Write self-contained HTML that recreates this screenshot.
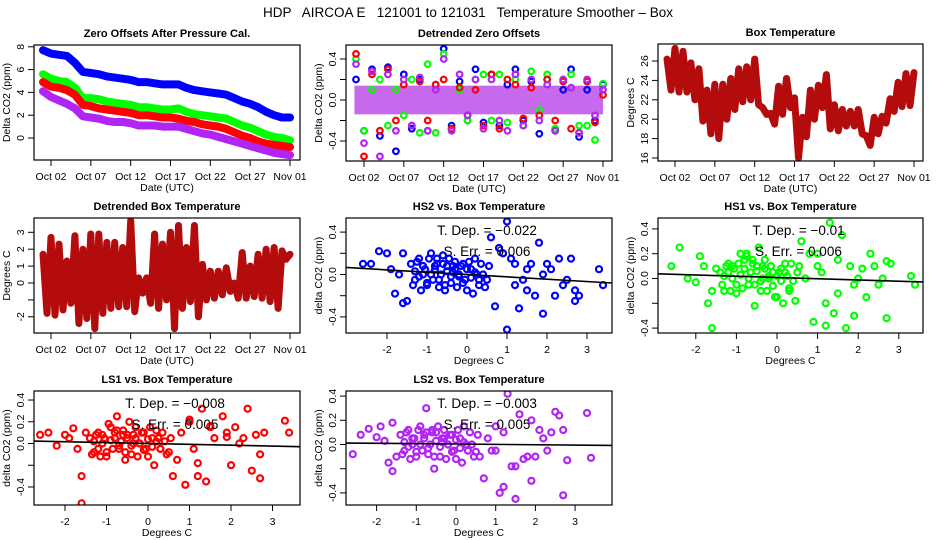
<!DOCTYPE html>
<html><head><meta charset="utf-8">
<style>
html,body{margin:0;padding:0;background:#fff;}
svg{display:block;font-family:"Liberation Sans",sans-serif;}
</style></head>
<body>
<svg id="chart" width="936" height="540" viewBox="0 0 936 540" xmlns="http://www.w3.org/2000/svg">
<text x="468" y="17" text-anchor="middle" font-size="13.5" xml:space="preserve">HDP   AIRCOA E   121001 to 121031   Temperature Smoother – Box</text>
</svg>
<script>
// ---------- data ----------
const dateTicks = [1, 6, 11, 16, 21, 26, 31];
const dateLabels = ["Oct 02", "Oct 07", "Oct 12", "Oct 17", "Oct 22", "Oct 27", "Nov 01"];
const dayIdx = [0,1,2,3,4,5,6,7,8,9,10,11,12,13,14,15,16,17,18,19,20,21,22,23,24,25,26,27,28,29,30,31];
const offHS2 = [7.7,7.4,7.3,7.2,6.6,5.8,5.7,5.6,5.4,5.3,5.2,5.1,4.9,4.9,4.8,4.7,4.7,4.7,4.4,4.2,4.1,4.0,3.9,3.8,3.5,3.2,3.0,2.7,2.3,2.0,1.8,1.8];
const offHS1 = [5.6,5.2,5.0,4.9,4.4,3.5,3.5,3.4,3.2,3.1,3.0,2.9,2.7,2.7,2.6,2.5,2.5,2.6,2.3,2.1,2.0,1.9,1.8,1.7,1.4,1.1,0.9,0.6,0.3,0.1,0.0,-0.2];
const offLS1 = [4.9,4.5,4.4,4.2,3.8,2.9,2.8,2.6,2.5,2.4,2.3,2.2,2.0,2.0,1.9,1.8,1.8,1.7,1.5,1.4,1.2,1.1,1.0,0.8,0.5,0.2,0.0,-0.3,-0.5,-0.6,-0.7,-0.8];
const offLS2 = [4.1,3.6,3.3,3.0,2.6,1.9,1.8,1.7,1.5,1.4,1.4,1.3,1.1,1.1,1.1,1.0,1.0,1.0,0.8,0.6,0.4,0.3,0.1,-0.1,-0.3,-0.5,-0.7,-0.9,-1.1,-1.3,-1.4,-1.5];

const detHS2 = [0.2,-0.3,0.3,-0.35,0.32,-0.5,0.25,-0.28,0.2,-0.3,0.15,0.5,-0.25,0.18,-0.2,0.3,-0.22,0.25,-0.25,0.15,0.3,-0.2,0.18,-0.33,0.2,-0.3,0.1,0.3,-0.36,0.1,-0.2,0.15];
const detHS1 = [0.4,-0.3,0.1,0.2,-0.25,0.1,-0.15,0.2,-0.32,0.35,-0.32,0.45,-0.28,0.1,-0.2,0.2,0.25,-0.2,0.25,-0.22,0.2,-0.25,0.28,-0.1,0.25,-0.28,0.2,0.25,-0.25,-0.25,-0.39,0.16];
const detLS1 = [0.45,-0.55,0.25,-0.3,0.3,-0.2,0.15,-0.25,0.18,-0.2,0.15,0.2,-0.28,0.12,-0.15,0.1,-0.25,0.25,-0.28,0.2,0.15,-0.18,0.12,-0.15,0.2,-0.2,0.18,-0.28,-0.32,0.18,-0.22,0.05];
const detLS2 = [0.35,-0.42,0.28,-0.55,0.25,-0.3,0.2,-0.25,0.22,-0.3,0.1,0.4,-0.3,0.25,-0.15,0.2,-0.28,0.2,-0.2,-0.3,0.25,-0.25,0.2,-0.2,0.15,-0.3,0.2,0.12,-0.32,0.2,-0.15,0.1];
const detCoreLow = -0.14;
const detCoreHigh = 0.14;

const halfDays = [0,0.5,1,1.5,2,2.5,3,3.5,4,4.5,5,5.5,6,6.5,7,7.5,8,8.5,9,9.5,10,10.5,11,11.5,12,12.5,13,13.5,14,14.5,15,15.5,16,16.5,17,17.5,18,18.5,19,19.5,20,20.5,21,21.5,22,22.5,23,23.5,24,24.5,25,25.5,26,26.5,27,27.5,28,28.5,29,29.5,30,30.5,31];
const boxTemp = [26.2,23,27.3,22.8,27.0,22.8,25.8,22,25.2,19.8,23,18.5,23.6,18.0,23.6,20,24.2,21,25.2,21.8,25.4,22,26.2,21.5,21.2,20.5,20.6,19.5,23.4,20.5,24.2,21.2,22.2,16.0,20.2,18.2,23.0,20.0,23.5,21.2,24.6,19.0,21.5,18.8,21.0,19.3,20.8,19.3,21.0,18.5,18.3,17.3,20.2,18.5,20.3,19.6,22.1,20.8,23.8,21.3,24.7,21.4,24.8];
const detTemp = [1.7,-1.8,2.7,-1.9,2.3,-1.6,1.3,-1.2,2.8,-2.4,2.0,-2.1,2.9,-2.7,2.9,-1.8,2.4,-1.5,2.4,-1.4,2.1,-1.4,3.7,-1.7,0.3,-0.6,0.3,-1.2,2.9,-1.5,2.3,-1.0,3.0,-2.7,3.4,-1.5,2.1,-1.1,3.4,-2.0,1.1,-1.0,0.7,-0.9,0.7,-0.7,0.9,-0.5,0.0,-0.9,1.8,-0.9,1.0,-0.8,1.7,-0.9,2.0,-1.1,2.1,-1.5,1.9,1.4,1.7];

const tempX = [-1.4,-1.3,-1.2,-1.1,-1.0,-0.9,-0.8,-0.7,-0.6,-0.5,-0.4,-0.3,-0.2,-0.1,0.0,0.1,0.2,0.3,0.4,0.5,
-1.35,-1.25,-1.15,-1.05,-0.95,-0.85,-0.75,-0.65,-0.55,-0.45,-0.35,-0.25,-0.15,-0.05,0.05,0.15,0.25,0.35,0.45,0.55,
-1.3,-1.2,-1.1,-1.0,-0.9,-0.8,-0.7,-0.6,-0.5,-0.4,-0.3,-0.2,-0.1,0.0,0.1,0.2,0.3,-0.75,-0.55,-0.35,
-2.6,-2.4,-2.2,-2.0,-1.9,-1.8,-1.7,-1.6,-1.6,-1.5,0.7,0.8,0.9,1.0,1.1,1.2,1.3,1.4,1.5,1.6,1.7,1.8,1.9,2.0,2.1,2.2,2.3,2.4,2.5,2.6,2.7,2.7,2.8,3.3,3.4,1.0,1.2,1.5,1.9,0.6];
const yHS2 = [0.1,-0.05,0.15,0.0,-0.1,0.2,0.05,-0.12,0.18,0.08,-0.08,0.12,-0.02,0.1,-0.15,0.05,0.15,-0.1,0.0,-0.05,
-0.1,0.12,-0.15,0.05,0.15,-0.05,0.1,0.0,-0.1,0.15,0.02,-0.12,0.08,-0.05,0.12,-0.18,0.0,0.1,-0.12,0.08,
0.03,-0.02,0.08,-0.08,0.0,0.08,-0.05,0.1,0.03,-0.02,0.05,0.0,-0.08,0.05,-0.03,0.02,-0.05,0.15,-0.15,0.08,
0.1,0.1,0.22,0.2,0.05,-0.18,0.0,-0.27,0.2,-0.25,-0.3,0.25,0.2,-0.52,0.15,0.1,-0.32,-0.05,-0.15,0.1,-0.2,0.3,0.0,0.1,0.05,-0.2,0.15,-0.1,-0.05,0.15,-0.15,-0.25,-0.2,0.05,-0.1,0.5,-0.1,0.05,-0.37,0.35];
const yHS1 = [0.05,-0.1,0.12,0.0,-0.12,0.2,0.08,-0.05,0.15,0.1,-0.1,0.15,0.0,0.05,-0.15,0.08,0.12,-0.08,-0.02,0.05,
-0.05,0.1,-0.1,0.08,0.12,-0.08,0.2,0.05,-0.05,0.25,0.0,-0.1,0.1,-0.15,0.05,-0.2,0.02,0.12,-0.18,0.1,
0.02,0.05,0.1,-0.05,0.03,0.15,0.0,0.12,0.06,-0.02,0.08,0.02,-0.06,0.02,-0.02,0.05,-0.1,0.18,-0.22,0.1,
0.1,0.25,0.0,-0.03,0.18,0.1,-0.2,-0.4,-0.1,0.08,0.0,0.2,-0.35,0.2,0.05,-0.38,0.45,-0.28,0.15,0.35,-0.4,0.1,-0.05,0.0,0.08,-0.15,0.2,0.1,-0.05,0.0,-0.32,0.14,0.12,0.02,-0.05,0.1,-0.2,-0.12,-0.3,0.3];
const yLS1 = [0.05,-0.08,0.1,0.0,-0.12,0.15,0.05,-0.05,0.12,0.08,-0.1,0.15,0.0,0.1,-0.12,0.05,0.12,-0.05,0.02,-0.08,
-0.1,0.08,-0.12,0.05,0.18,-0.05,0.12,0.02,-0.08,0.2,0.0,-0.12,0.1,-0.05,0.15,-0.2,0.05,0.1,-0.1,0.05,
0.02,-0.05,0.08,-0.08,0.03,0.1,-0.02,0.08,0.05,-0.02,0.05,0.0,-0.06,0.04,-0.03,0.02,-0.05,0.25,-0.15,0.08,
0.08,0.1,-0.02,0.08,0.05,0.14,-0.05,-0.3,-0.55,0.1,-0.15,0.1,-0.38,0.2,-0.05,-0.3,0.32,-0.35,0.16,0.05,-0.6,0.25,0.1,-0.2,0.15,0.0,0.05,0.32,-0.25,0.08,-0.1,-0.32,0.1,0.21,0.1,0.22,-0.18,0.15,0.06,-0.3];
const yLS2 = [0.08,-0.05,0.12,0.0,-0.1,0.15,0.05,-0.08,0.12,0.1,-0.1,0.12,0.0,0.08,-0.12,0.05,0.15,-0.05,0.0,-0.06,
-0.08,0.1,-0.12,0.05,0.12,-0.05,0.1,0.0,-0.1,0.15,0.02,-0.12,0.08,-0.05,0.12,-0.15,0.0,0.1,-0.1,0.08,
0.02,-0.02,0.05,-0.06,0.0,0.08,-0.03,0.1,0.03,-0.02,0.05,0.0,-0.06,0.04,-0.03,0.02,-0.05,0.3,-0.2,0.05,
-0.08,0.08,0.13,0.06,0.15,0.03,-0.15,-0.22,0.18,-0.1,-0.28,0.05,-0.05,0.15,-0.4,0.1,0.42,-0.18,-0.45,0.25,-0.12,-0.1,0.2,-0.1,0.12,0.05,-0.05,0.1,0.27,0.24,-0.42,0.12,-0.13,0.26,-0.11,-0.05,-0.35,-0.18,-0.3,-0.1];
const fitSlopes = [-0.022, -0.01, -0.008, -0.003];
const fitIntercepts = [0.0, 0.008, 0.0, 0.004];
const depLabels = ["-0.022", "-0.01", "-0.008", "-0.003"];
const errLabels = ["0.006", "0.006", "0.005", "0.005"];
const scatterTicks = [-2, -1, 0, 1, 2, 3];

// ---------- drawing ----------
const NS = "http://www.w3.org/2000/svg";
const svg = document.getElementById("chart");
const PURPLE = "#b024f4";
const DARKRED = "#b40c0c";
let clipN = 0;

function mk(tag, parent) {
  const e = document.createElementNS(NS, tag);
  parent.appendChild(e);
  return e;
}
function txt(parent, x, y, s, size, anchor, bold, rot) {
  const t = mk("text", parent);
  t.setAttribute("x", x); t.setAttribute("y", y);
  t.setAttribute("font-size", size);
  t.setAttribute("text-anchor", anchor || "middle");
  if (bold) t.setAttribute("font-weight", "bold");
  if (rot) t.setAttribute("transform", "rotate(-90 " + x + " " + y + ")");
  t.textContent = s;
  return t;
}

function panel(o) {
  const g = mk("g", svg);
  
  
  const [x0, y0, x1, y1] = o.box;
  const sx = v => o.xa + v * o.xk;
  const sy = v => o.ya - v * o.yk;
  const tt = txt(g, (x0 + x1) / 2, y0 - 8, o.title, 11, "middle", true);
  
  
  const cp = mk("clipPath", g); const cid = "cp" + (clipN++);
  cp.setAttribute("id", cid);
  const cr = mk("rect", cp);
  cr.setAttribute("x", x0); cr.setAttribute("y", y0); cr.setAttribute("width", x1 - x0); cr.setAttribute("height", y1 - y0);
  const plot = mk("g", g);
  plot.setAttribute("clip-path", "url(#" + cid + ")");
  
  
  o.draw(plot, sx, sy);
  const bx = mk("rect", g);
  bx.setAttribute("x", x0); bx.setAttribute("y", y0); bx.setAttribute("width", x1 - x0); bx.setAttribute("height", y1 - y0);
  bx.setAttribute("fill", "none"); bx.setAttribute("stroke", "#000"); bx.setAttribute("stroke-width", "1.2");
  
  
  const xg = mk("g", g);
  
  
  o.xticks.forEach((v, i) => {
    const X = sx(v);
    const l = mk("line", xg);
    l.setAttribute("x1", X); l.setAttribute("x2", X); l.setAttribute("y1", y1); l.setAttribute("y2", y1 + 6);
    l.setAttribute("stroke", "#000");
    const t = txt(xg, X, y1 + 20, o.xlabels[i], 10.5);
    
    
  });
  const xt = txt(g, (x0 + x1) / 2, y1 + 31, o.xtitle, 10.5);
  
  
  const yg = mk("g", g);
  
  
  o.yticks.forEach((v, i) => {
    const Y = sy(v);
    const l = mk("line", yg);
    l.setAttribute("x1", x0 - 6); l.setAttribute("x2", x0); l.setAttribute("y1", Y); l.setAttribute("y2", Y);
    l.setAttribute("stroke", "#000");
    if (o.ylabels[i] !== "") {
      const t = txt(yg, x0 - 10, Y, o.ylabels[i], 10.5, "middle", false, true);
      
      
    }
  });
  const yt = txt(g, x0 - 24, (y0 + y1) / 2, o.ytitle, 10.5, "middle", false, true);
  
  
  return g;
}

function line(parent, xs, ys, sx, sy, color, w, name) {
  const p = mk("polyline", parent);
  p.setAttribute("points", xs.map((x, i) => sx(x).toFixed(1) + "," + sy(ys[i]).toFixed(1)).join(" "));
  p.setAttribute("fill", "none"); p.setAttribute("stroke", color); p.setAttribute("stroke-width", w);
  p.setAttribute("stroke-linejoin", "round"); p.setAttribute("stroke-linecap", "round");
  
  
  return p;
}
function points(parent, xs, ys, sx, sy, color, name, r, sw) {
  const g = mk("g", parent);
  
  
  xs.forEach((x, i) => {
    const c = mk("circle", g);
    c.setAttribute("cx", sx(x).toFixed(1)); c.setAttribute("cy", sy(ys[i]).toFixed(1));
    c.setAttribute("r", r || 2.6); c.setAttribute("fill", "none");
    c.setAttribute("stroke", color); c.setAttribute("stroke-width", sw || 1.8);
  });
  return g;
}

const dayK = 239 / 30;
const timeCommon = { xticks: dateTicks, xlabels: dateLabels, xtitle: "Date (UTC)", xk: dayK };

panel(Object.assign({}, timeCommon, {
  name: "zero-offsets-panel", box: [34, 45, 300, 160], title: "Zero Offsets After Pressure Cal.",
  xa: 51 - dayK, ya: 138, yk: 11.4, yticks: [0, 2, 4, 6, 8], ylabels: ["0", "2", "4", "6", "8"], ytitle: "Delta CO2 (ppm)",
  draw(p, sx, sy) {
    line(p, dayIdx, offHS2, sx, sy, "#0000ff", 8, "series-hs2");
    line(p, dayIdx, offHS1, sx, sy, "#00ff00", 8, "series-hs1");
    line(p, dayIdx, offLS1, sx, sy, "#ff0000", 8, "series-ls1");
    line(p, dayIdx, offLS2, sx, sy, PURPLE, 8, "series-ls2");
  }
}));

panel(Object.assign({}, timeCommon, {
  name: "detrended-zero-offsets-panel", box: [346, 45, 612, 161], title: "Detrended Zero Offsets",
  xa: 364 - dayK, ya: 100, yk: 102.5, yticks: [-0.4, -0.2, 0, 0.2, 0.4], ylabels: ["-0.4", "", "0.0", "", "0.4"], ytitle: "Delta CO2 (ppm)",
  draw(p, sx, sy) {
    const band = mk("rect", p);
    band.setAttribute("x", sx(-0.2)); band.setAttribute("width", sx(31) - sx(-0.2));
    band.setAttribute("y", sy(detCoreHigh)); band.setAttribute("height", sy(detCoreLow) - sy(detCoreHigh));
    band.setAttribute("fill", "#b844e8");
    band.setAttribute("opacity", "0.8");
    
    
    points(p, dayIdx, detHS2, sx, sy, "#0000ff", "series-hs2", 2.8, 2.2);
    points(p, dayIdx, detHS1, sx, sy, "#00ff00", "series-hs1", 2.8, 2.2);
    points(p, dayIdx, detLS1, sx, sy, "#ff0000", "series-ls1", 2.8, 2.2);
    points(p, dayIdx, detLS2, sx, sy, PURPLE, "series-ls2", 2.8, 2.2);
  }
}));

panel(Object.assign({}, timeCommon, {
  name: "box-temperature-panel", box: [658, 44, 923, 161], title: "Box Temperature",
  xa: 675 - dayK, ya: 158 + 16 * 9.7, yk: 9.7, yticks: [16, 18, 20, 22, 24, 26], ylabels: ["16", "18", "20", "22", "24", "26"], ytitle: "Degrees C",
  draw(p, sx, sy) { line(p, halfDays, boxTemp, sx, sy, DARKRED, 7, "box-temperature-series"); }
}));

panel(Object.assign({}, timeCommon, {
  name: "detrended-box-temperature-panel", box: [34, 218, 300, 333], title: "Detrended Box Temperature",
  xa: 51 - dayK, ya: 283, yk: 16.9, yticks: [-2, -1, 0, 1, 2, 3], ylabels: ["-2", "", "0", "1", "2", "3"], ytitle: "Degrees C",
  draw(p, sx, sy) { line(p, halfDays, detTemp, sx, sy, DARKRED, 7, "detrended-temperature-series"); }
}));

function scatterPanel(name, box, title, xa, xk, ya, yk, ylabels, ys, color, k) {
  panel({
    name: name, box: box, title: title, xa: xa, xk: xk, ya: ya, yk: yk,
    xticks: scatterTicks, xlabels: scatterTicks.map(String), xtitle: "Degrees C",
    yticks: [-0.4, -0.2, 0, 0.2, 0.4], ylabels: ylabels, ytitle: "delta CO2 (ppm)",
    draw(p, sx, sy) {
      points(p, tempX, ys, sx, sy, color, "scatter-points", 3, 2.2);
      const fx = [-4, 5];
      line(p, fx, fx.map(v => fitIntercepts[k] + fitSlopes[k] * v), sx, sy, "#000", 1.6, "regression-line");
      const cx = (box[0] + box[2]) / 2 + 8;
      const t1 = txt(p, cx, box[1] + 17, "T. Dep. =  " + depLabels[k].replace("-", "\u2212"), 13.5);
      
      
      t1.setAttribute("xml:space", "preserve");
      const t2 = txt(p, cx, box[1] + 38, "S. Err. =  " + errLabels[k], 13.5);
      
      
      t2.setAttribute("xml:space", "preserve");
    }
  });
}
scatterPanel("hs2-vs-temp-panel", [346, 218, 612, 333], "HS2 vs. Box Temperature", 467, 40, 274.5, 106, ["-0.4", "", "0.0", "", "0.4"], yHS2, "#0000ff", 0);
scatterPanel("hs1-vs-temp-panel", [658, 218, 923, 333], "HS1 vs. Box Temperature", 777, 40.6, 278.5, 124, ["-0.4", "", "0.0", "0.2", "0.4"], yHS1, "#00ff00", 1);
scatterPanel("ls1-vs-temp-panel", [34, 391, 300, 505], "LS1 vs. Box Temperature", 148, 41.5, 443.5, 108.7, ["-0.4", "", "0.0", "0.2", "0.4"], yLS1, "#ff0000", 2);
scatterPanel("ls2-vs-temp-panel", [346, 391, 612, 505], "LS2 vs. Box Temperature", 456, 39.7, 444.5, 121, ["-0.4", "", "0.0", "0.2", "0.4"], yLS2, PURPLE, 3);
</script>
</body></html>
